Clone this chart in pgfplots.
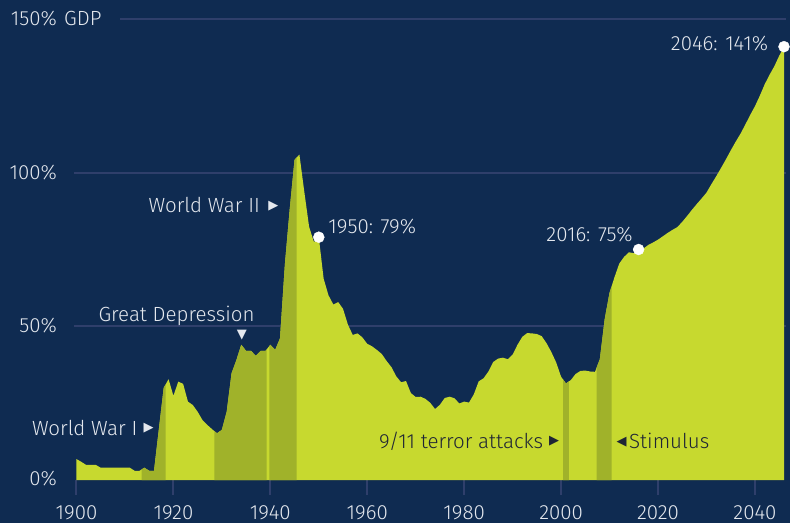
\documentclass[border=0pt]{standalone}
\usepackage{fontspec}
\setmainfont{Fira Sans Light}
\newfontfamily\dejavu{DejaVu Sans}
\usepackage{pgfplots}
\usepackage{pgfplotstable}
\pgfplotsset{compat=1.18}
\usepgfplotslibrary{fillbetween}
\definecolor{bg}{HTML}{0F2B51}
\definecolor{lime}{HTML}{C7D92F}
\definecolor{band}{HTML}{A0B22A}
\definecolor{gridc}{HTML}{2F3F6B}
\definecolor{txt}{HTML}{E4E8EE}
\definecolor{dtxt}{HTML}{1F2535}

\pgfplotstableread{
year debt
1900 6.8
1901 5.9
1902 4.9
1903 4.9
1904 4.9
1905 4.0
1906 4.0
1907 4.0
1908 4.0
1909 4.0
1910 4.0
1911 4.0
1912 3.0
1913 3.0
1914 4.0
1915 3.0
1916 3.0
1917 16.5
1918 30.0
1919 32.8
1920 27.4
1921 32.0
1922 31.3
1923 25.5
1924 24.4
1925 22.2
1926 19.5
1927 17.9
1928 16.5
1929 15.2
1930 16.3
1931 22.2
1932 34.7
1933 39.0
1934 44.0
1935 42.0
1936 42.0
1937 40.4
1938 42.0
1939 42.0
1940 44.0
1941 42.3
1942 46.1
1943 70.0
1944 88.0
1945 104.2
1946 105.9
1947 93.9
1948 82.4
1949 77.4
1950 79.0
1951 65.5
1952 60.1
1953 57.1
1954 57.9
1955 55.7
1956 50.6
1957 47.2
1958 47.7
1959 46.4
1960 44.3
1961 43.5
1962 42.3
1963 41.0
1964 38.7
1965 36.7
1966 33.7
1967 31.8
1968 32.2
1969 28.3
1970 27.0
1971 27.1
1972 26.4
1973 25.1
1974 23.1
1975 24.5
1976 26.7
1977 27.1
1978 26.6
1979 24.9
1980 25.5
1981 25.2
1982 27.9
1983 32.1
1984 33.1
1985 35.3
1986 38.4
1987 39.5
1988 39.8
1989 39.3
1990 40.8
1991 44.0
1992 46.6
1993 47.8
1994 47.7
1995 47.5
1996 46.8
1997 44.5
1998 41.6
1999 38.2
2000 33.6
2001 31.4
2002 32.5
2003 34.5
2004 35.5
2005 35.6
2006 35.3
2007 35.2
2008 39.3
2009 52.3
2010 60.9
2011 65.9
2012 70.4
2013 72.6
2014 74.1
2015 73.8
2016 75.0
2017 75.3
2018 76.5
2019 77.3
2020 78.2
2021 79.3
2022 80.4
2023 81.4
2024 82.3
2025 84.0
2026 85.9
2027 87.9
2028 89.8
2029 91.6
2030 93.5
2031 96.2
2032 98.8
2033 101.5
2034 104.3
2035 107.2
2036 110.0
2037 112.6
2038 115.6
2039 118.7
2040 121.6
2041 125.0
2042 128.7
2043 131.8
2044 134.6
2045 138.0
2046 141.0
}\debt

\begin{document}
\begin{tikzpicture}[
  lab/.style={inner sep=0pt, font=\fontsize{20.5}{24}\selectfont},
  tri/.style={inner sep=0pt, font=\dejavu\fontsize{13}{13}\selectfont}]
\begin{axis}[
  set layers,
  scale only axis, width=707.5pt, height=461pt,
  xmin=1900, xmax=2046, ymin=0, ymax=150,
  clip=false,
  axis line style={draw=none},
  xtick={1900,1920,1940,1960,1980,2000,2020,2040},
  xticklabels={},
  ytick=\empty,
  xtick pos=bottom,
  tick align=outside, major tick length=15pt,
  x tick style={gridc, line width=2pt},
]
\begin{pgfonlayer}{axis background}
\fill[bg] (axis cs:1884.21,-13.99) rectangle (axis cs:2047.23,156.19);
\draw[gridc, line width=2pt] (axis cs:1908.98,150) -- (axis cs:2046.41,150);
\draw[gridc, line width=2pt] (axis cs:1899.48,100) -- (axis cs:2046.41,100);
\draw[gridc, line width=2pt] (axis cs:1899.48,50) -- (axis cs:2046.41,50);
\end{pgfonlayer}

\addplot[draw=none, name path=debt, forget plot] table[x=year,y=debt]{\debt};
\addplot[draw=none, name path=base, forget plot] coordinates {(1900,0) (2046,0)};
\addplot[lime, draw=none] fill between[of=debt and base];
\addplot[band, draw=none] fill between[of=debt and base, soft clip={domain=1913.45:1918.4}];
\addplot[band, draw=none] fill between[of=debt and base, soft clip={domain=1928.44:1939.25}];
\addplot[band, draw=none] fill between[of=debt and base, soft clip={domain=1939.8:1945.44}];
\addplot[band, draw=none] fill between[of=debt and base, soft clip={domain=2000.4:2001.6}];
\addplot[band, draw=none] fill between[of=debt and base, soft clip={domain=2007.35:2010.44}];

\addplot[only marks, mark=*, mark size=5.5pt, white, mark options={draw=white, fill=white}]
  coordinates {(1950,79) (2016,75) (2046,141)};

% y labels
\node[lab, anchor=base east, text=txt] at (axis cs:1895.98,147.9) {150\%};
\node[lab, anchor=base west, text=txt] at (axis cs:1897.42,147.9) {GDP};
\node[lab, anchor=base east, text=txt] at (axis cs:1895.98,97.9) {100\%};
\node[lab, anchor=base east, text=txt] at (axis cs:1895.98,47.9) {50\%};
\node[lab, anchor=base east, text=txt] at (axis cs:1895.98,-1.95) {0\%};
% x labels
\node[lab, anchor=base, text=txt] at (axis cs:1900,-12.69) {1900};
\node[lab, anchor=base, text=txt] at (axis cs:1920,-12.69) {1920};
\node[lab, anchor=base, text=txt] at (axis cs:1940,-12.69) {1940};
\node[lab, anchor=base, text=txt] at (axis cs:1960,-12.69) {1960};
\node[lab, anchor=base, text=txt] at (axis cs:1980,-12.69) {1980};
\node[lab, anchor=base, text=txt] at (axis cs:2000,-12.69) {2000};
\node[lab, anchor=base, text=txt] at (axis cs:2020,-12.69) {2020};
\node[lab, anchor=base, text=txt] at (axis cs:2040,-12.69) {2040};
% annotations
\node[lab, anchor=base east, text=txt] at (axis cs:1912.59,14.32) {World War I};
\node[tri, text=txt] at (axis cs:1914.86,16.92) {▶};
\node[lab, anchor=base, text=txt] at (axis cs:1920.64,51.51) {Great Depression};
\node[tri, text=txt] at (axis cs:1934.11,47.28) {▼};
\node[lab, anchor=base east, text=txt] at (axis cs:1937.87,87.1) {World War II};
\node[tri, text=txt] at (axis cs:1940.61,89.09) {▶};
\node[lab, anchor=base west, text=txt] at (axis cs:1951.96,80.27) {1950: 79\%};
\node[lab, anchor=base east, text=txt] at (axis cs:2014.78,77.54) {2016: 75\%};
\node[lab, anchor=base east, text=txt] at (axis cs:2042.76,139.69) {2046: 141\%};
\node[lab, anchor=base east, text=dtxt] at (axis cs:1996.33,10.09) {9/11 terror attacks};
\node[tri, text=dtxt] at (axis cs:1998.58,12.53) {▶};
\node[tri, text=dtxt] at (axis cs:2012.51,12.2) {◀};
\node[lab, anchor=base west, text=dtxt] at (axis cs:2014.01,10.31) {Stimulus};
\end{axis}
\pgfresetboundingbox
\path[use as bounding box] (-76.5pt,-43pt) rectangle (713.5pt,480pt);
\end{tikzpicture}
\end{document}
